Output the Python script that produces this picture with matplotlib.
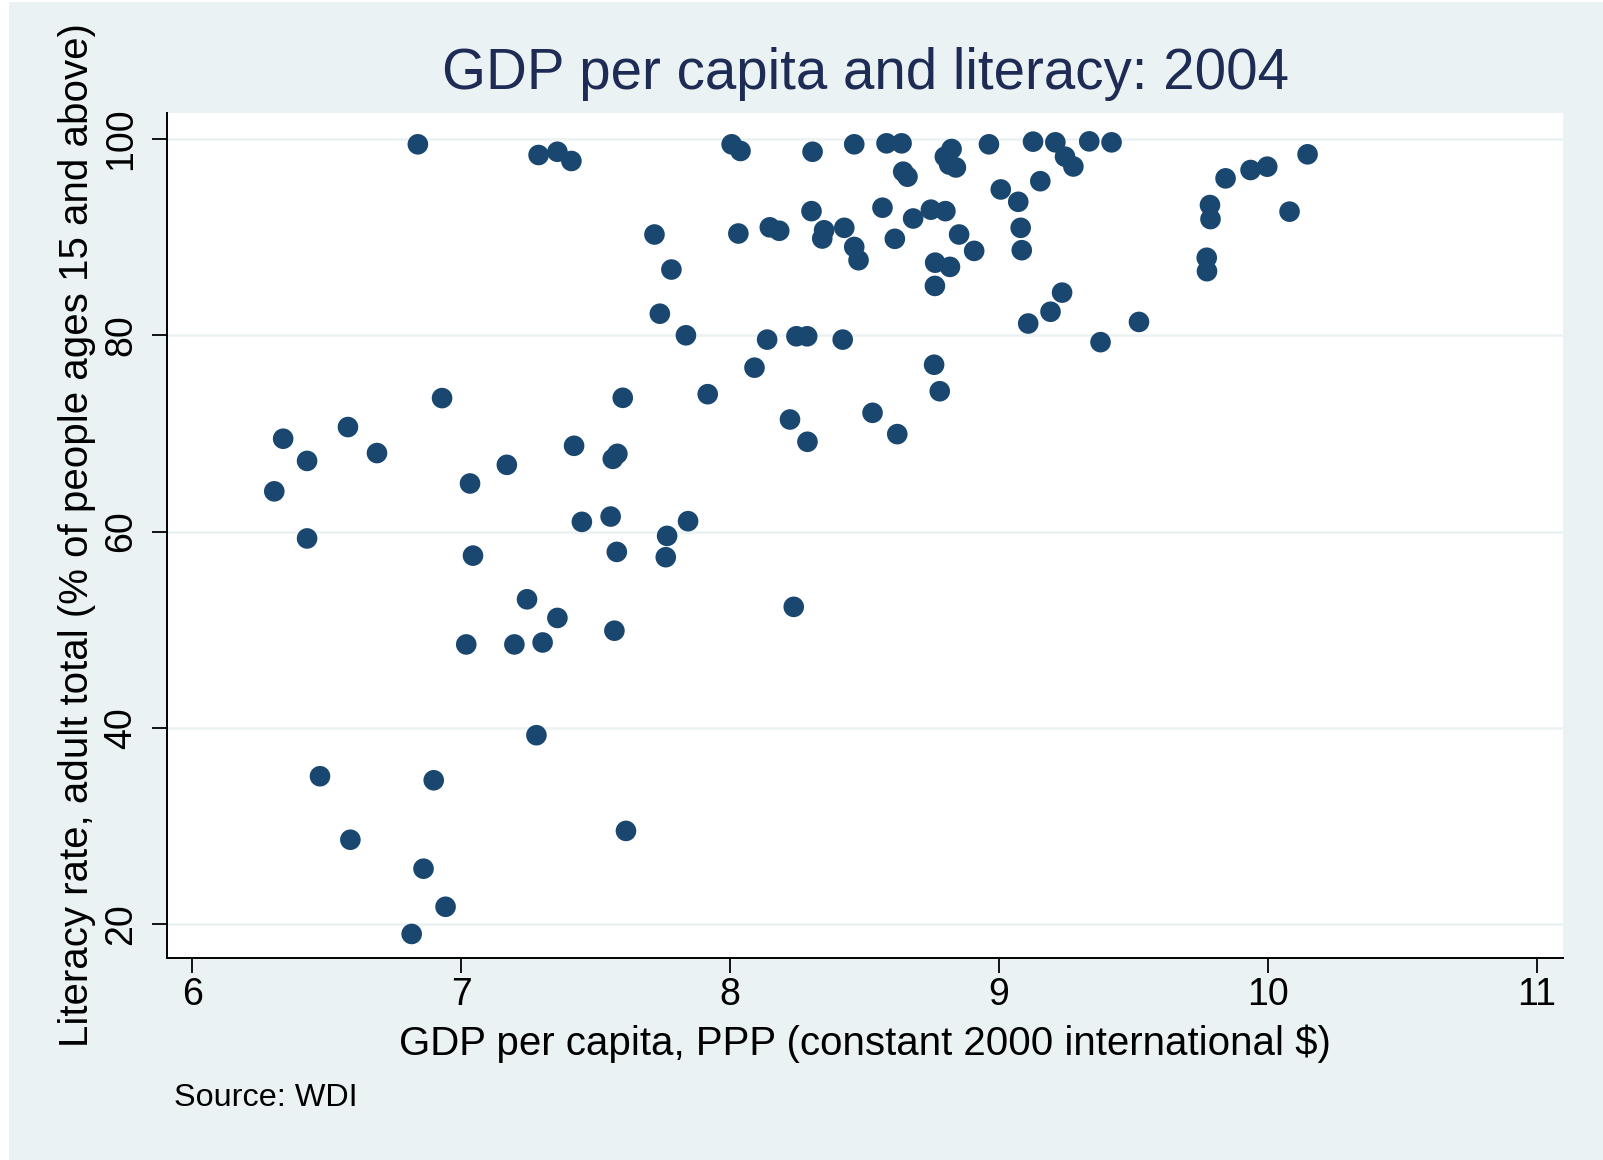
import matplotlib
matplotlib.use("Agg")
import matplotlib.pyplot as plt
from matplotlib.patches import Rectangle

# log GDP per capita, PPP (constant 2000 international $)
gdp_log = [
    6.839, 7.288, 7.358, 7.410, 7.719, 7.782, 7.739, 7.836, 6.929, 7.601,
    7.917, 6.338, 6.579, 6.427, 6.687, 6.305, 7.033, 7.170, 7.420, 7.564,
    7.581, 6.427, 7.044, 7.449, 7.556, 7.579, 7.766, 7.761, 7.844, 7.245,
    7.358, 7.019, 7.198, 7.303, 7.570, 7.280, 6.475, 6.898, 6.588, 7.613,
    6.860, 6.942, 6.816,
    8.006, 8.039, 8.307, 8.462, 8.582, 8.638, 8.824, 8.799, 8.815, 8.840,
    8.644, 8.660, 8.963, 9.127, 9.210, 9.246, 9.277, 9.336, 9.419, 9.154,
    9.007, 9.072, 9.081, 9.085, 8.031, 8.148, 8.183, 8.303, 8.350, 8.343,
    8.425, 8.462, 8.478, 8.567, 8.613, 8.681, 8.747, 8.801, 8.852, 8.908,
    8.763, 8.818, 8.762, 9.235, 9.192, 9.109, 9.378, 9.521, 8.138, 8.247,
    8.287, 8.419, 8.091, 8.759, 8.780, 8.223, 8.530, 8.288, 8.622, 8.237,
    9.785, 9.787, 9.773, 9.774, 9.843, 9.936, 9.998, 10.081, 10.148,
]

# adult literacy rate (% of people ages 15 and above)
literacy = [
    99.46, 98.37, 98.70, 97.76, 90.27, 86.70, 82.20, 80.00, 73.60, 73.63,
    74.00, 69.46, 70.65, 67.20, 68.00, 64.10, 64.90, 66.80, 68.74, 67.41,
    67.92, 59.30, 57.55, 60.99, 61.53, 57.93, 59.56, 57.39, 61.06, 53.10,
    51.20, 48.50, 48.50, 48.70, 49.90, 39.25, 35.07, 34.66, 28.60, 29.50,
    25.65, 21.77, 19.00,
    99.46, 98.78, 98.70, 99.46, 99.56, 99.56, 98.98, 98.20, 97.40, 97.10,
    96.67, 96.16, 99.46, 99.73, 99.66, 98.20, 97.20, 99.76, 99.66, 95.70,
    94.86, 93.60, 90.95, 88.67, 90.37, 91.00, 90.65, 92.65, 90.70, 89.86,
    90.95, 89.00, 87.65, 93.00, 89.83, 91.90, 92.80, 92.65, 90.27, 88.60,
    87.40, 86.97, 85.03, 84.35, 82.40, 81.20, 79.30, 81.36, 79.56, 79.90,
    79.90, 79.56, 76.70, 77.00, 74.30, 71.42, 72.10, 69.15, 69.93, 52.33,
    93.27, 91.84, 87.90, 86.53, 95.99, 96.84, 97.18, 92.60, 98.44,
]

x_ticks = [6, 7, 8, 9, 10, 11]
y_ticks = [20, 40, 60, 80, 100]

title = "GDP per capita and literacy: 2004"
x_title = "GDP per capita, PPP (constant 2000 international $)"
y_title = "Literacy rate, adult total (% of people ages 15 and above)"
note = "Source: WDI"

BG = "#EAF2F3"
MARKER = "#1A476F"
TITLE_C = "#1E2C55"

plt.rcParams["font.family"] = ["Liberation Sans", "DejaVu Sans"]

W, H = 1603, 1160
fig = plt.figure(figsize=(W / 100, H / 100), dpi=100, facecolor="white")

# graph region background
fig.patches.append(Rectangle((9 / W, 0), 1 - 9 / W, 1 - 2 / H,
                             transform=fig.transFigure, facecolor=BG,
                             edgecolor="none", zorder=-10))

left, right, top, bottom = 167, 1563, 113, 958
ax = fig.add_axes([left / W, 1 - bottom / H, (right - left) / W, (bottom - top) / H])
ax.set_facecolor("white")

ax.scatter(gdp_log, literacy, s=220, color=MARKER, edgecolors="none", zorder=3)

ax.set_xlim(5.906, 11.098)
ax.set_ylim(16.55, 102.65)
ax.set_xticks(x_ticks)
ax.set_yticks(y_ticks)
ax.set_xticklabels([str(t) for t in x_ticks])
ax.set_yticklabels([str(t) for t in y_ticks])

ax.grid(axis="y", color=BG, linewidth=1.8, zorder=0)
ax.grid(axis="x", visible=False)
ax.set_axisbelow(True)

for side in ("top", "right"):
    ax.spines[side].set_visible(False)
for side in ("left", "bottom"):
    ax.spines[side].set_linewidth(1.4)
    ax.spines[side].set_color("black")

ax.tick_params(axis="both", direction="out", length=10.8, width=1.3,
               color="black", labelsize=27, labelcolor="black")
ax.tick_params(axis="x", pad=3)
ax.tick_params(axis="y", pad=15)

for lab in ax.get_yticklabels():
    lab.set_rotation(90)
    lab.set_rotation_mode("anchor")
    lab.set_ha("center")
    lab.set_va("baseline")

fig.text((left + right) / 2 / W, 1 - 89 / H, title, ha="center", va="baseline",
         fontsize=40.7, color=TITLE_C)
fig.text((left + right) / 2 / W, 1 - 1055 / H, x_title, ha="center", va="baseline",
         fontsize=29, color="black")
fig.text(88 / W, 1 - (top + bottom) / 2 / H, y_title, ha="center", va="baseline",
         rotation=90, rotation_mode="anchor", fontsize=29, color="black")
fig.text(174 / W, 1 - 1106 / H, note, ha="left", va="baseline",
         fontsize=23.3, color="black")

fig.savefig("out.png", dpi=100, facecolor="white")
